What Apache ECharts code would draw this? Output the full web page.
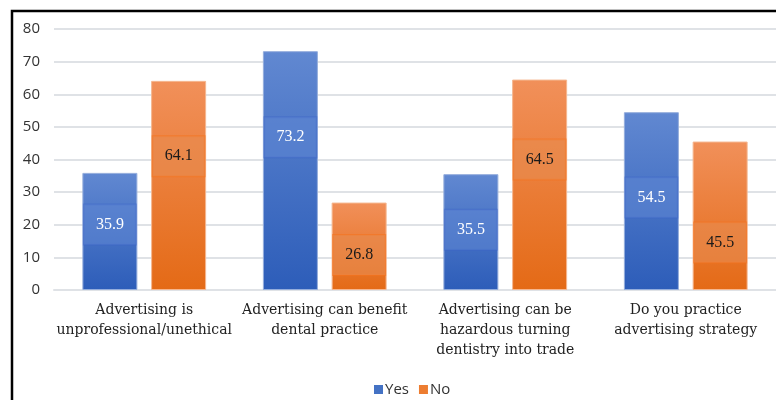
<!DOCTYPE html>
<html>
<head>
<meta charset="utf-8">
<script src="https://cdn.jsdelivr.net/npm/echarts@6/dist/echarts.min.js"></script>
<style>html,body{margin:0;padding:0;background:#fff}#c{width:776px;height:400px}</style>
</head>
<body>
<div id="c"></div>
<script>
var categories = [
  'Advertising is\nunprofessional/unethical',
  'Advertising can benefit\ndental practice',
  'Advertising can be\nhazardous turning\ndentistry into trade',
  'Do you practice\nadvertising strategy'
];
var yesValues = [35.9, 73.2, 35.5, 54.5];
var noValues = [64.1, 26.8, 64.5, 45.5];
var yTicks = [0, 10, 20, 30, 40, 50, 60, 70, 80];
// label placement within each bar (fraction from bar top) - styling only
var yesLabelFrac = ['44%', '36%', '48%', '48%'];
var noLabelFrac = ['36%', '60%', '38%', '68%'];

var chart = echarts.init(document.getElementById('c'));

function grad(top, bottom) {
  return new echarts.graphic.LinearGradient(0, 0, 0, 1, [
    {offset: 0, color: top}, {offset: 1, color: bottom}
  ]);
}

function buildData(vals, fracs, textColor, bg, border) {
  return vals.map(function (v, i) {
    return {
      value: v,
      label: {
        show: true,
        position: ['50%', fracs[i]],
        align: 'center',
        verticalAlign: 'middle',
        color: textColor,
        fontFamily: 'Liberation Serif',
        fontSize: 16,
        width: 40,
        padding: [12, 6],
        backgroundColor: bg,
        borderColor: border,
        borderWidth: 1
      }
    };
  });
}

chart.setOption({
  animation: false,
  graphic: [{
    type: 'polyline',
    shape: {points: [[12, 400], [12, 11], [776, 11]]},
    style: {stroke: '#000', lineWidth: 2.5, fill: null},
    z: 100
  }],
  grid: {left: 54, right: -4, top: 29, bottom: 110, containLabel: false},
  legend: {
    bottom: -2,
    left: 369,
    itemWidth: 9,
    itemHeight: 9,
    itemGap: 10,
    icon: 'rect',
    textStyle: {fontFamily: 'Open Sans', fontSize: 15, color: '#333', padding: [0, 0, 0, -3]},
    data: [
      {name: 'Yes', itemStyle: {color: '#4472c4', borderWidth: 0}},
      {name: 'No', itemStyle: {color: '#ed7d31', borderWidth: 0}}
    ]
  },
  xAxis: {
    type: 'category',
    data: categories,
    axisTick: {show: false},
    axisLine: {lineStyle: {color: '#dfe2e6', width: 2}},
    axisLabel: {
      interval: 0,
      margin: 10,
      fontFamily: 'DejaVu Serif',
      fontSize: 14,
      lineHeight: 20,
      color: '#222'
    }
  },
  yAxis: {
    type: 'value',
    min: yTicks[0],
    max: yTicks[yTicks.length - 1],
    interval: 10,
    axisLine: {show: false},
    axisTick: {show: false},
    splitLine: {lineStyle: {color: '#dfe2e6', width: 2}},
    axisLabel: {
      margin: 14,
      fontFamily: 'Open Sans',
      fontSize: 15,
      color: '#333'
    }
  },
  series: [{
    name: 'Yes',
    type: 'bar',
    barWidth: 55,
    barGap: '25%',
    itemStyle: {color: grad('#6188d1', '#2d5db9'), borderColor: '#94addc', borderWidth: 1},
    data: buildData(yesValues, yesLabelFrac, '#ffffff', 'rgba(95,135,212,0.55)', 'rgba(60,100,200,0.45)')
  }, {
    name: 'No',
    type: 'bar',
    barWidth: 55,
    barGap: '25%',
    itemStyle: {color: grad('#f1905a', '#e46a16'), borderColor: '#f5b790', borderWidth: 1},
    data: buildData(noValues, noLabelFrac, '#1a1a1a', 'rgba(232,140,80,0.6)', 'rgba(245,115,30,0.6)')
  }]
});
</script>
</body>
</html>
